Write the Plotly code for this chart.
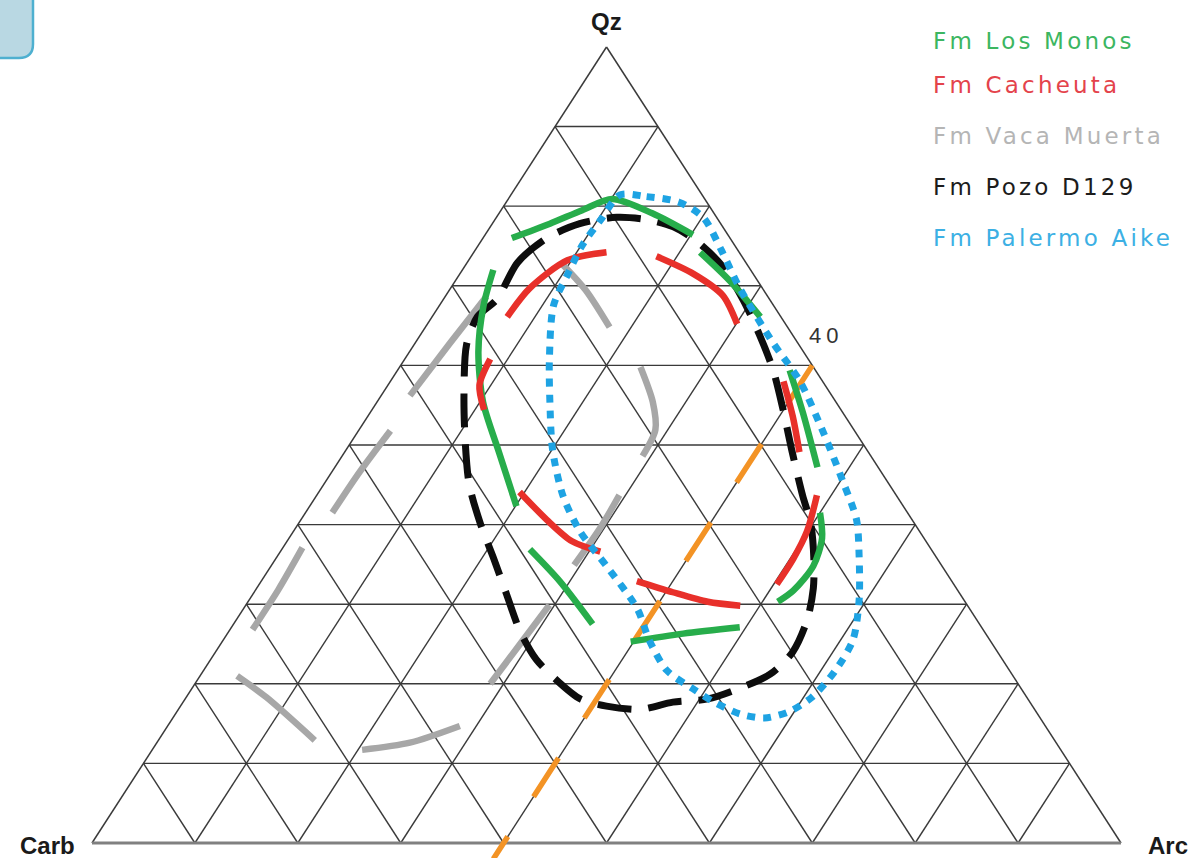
import plotly.graph_objects as go

# ---------------------------------------------------------------------------
# Ternary diagram Qz - Carb - Arc with formation envelopes (values in %)
# ---------------------------------------------------------------------------
vertex_names = ["Qz", "Carb", "Arc"]
grid_steps = [10, 20, 30, 40, 50, 60, 70, 80, 90]

# Reference line of constant Arc
arc_guide_value = 40
arc_guide_qz = [60, -2]

# Fm Los Monos (separate strokes split by None)
los_monos_qz = [76.0, 77.8, 79.5, 80.9, 79.1, 76.4, None,
                74.2, 70.6, 66.1, None,
                59.4, 54.0, 47.2, None,
                41.5, 38.3, 34.8, 31.7, 30.3, None,
                27.1, 26.3, 25.3, None,
                27.5, 32.9, 36.9, None,
                42.3, 49.1, 55.4, 61.7, 67.5, 72.0]
los_monos_carb = [21.2, 16.6, 12.6, 9.0, 6.0, 3.4, None,
                  3.8, 2.7, 2.0, None,
                  2.5, 3.9, 5.9, None,
                  8.5, 9.9, 12.5, 16.0, 18.2, None,
                  23.5, 29.4, 35.0, None,
                  37.6, 38.1, 39.0, None,
                  37.6, 35.9, 34.3, 31.6, 28.2, 25.0]
los_monos_arc = [2.8, 5.6, 7.9, 10.1, 14.9, 20.2, None,
                 22.0, 26.7, 31.9, None,
                 38.1, 42.1, 46.9, None,
                 50.0, 51.8, 52.7, 52.3, 51.5, None,
                 49.4, 44.3, 39.7, None,
                 34.9, 29.0, 24.1, None,
                 20.1, 15.0, 10.3, 6.7, 4.3, 3.0]

# Fm Cacheuta
cacheuta_qz = [66.1, 69.7, 73.2, 74.2, None,
               73.7, 71.5, 68.8, 65.2, None,
               58.0, 53.6, 49.1, None,
               43.7, 39.2, 35.7, 32.5, None,
               29.8, 30.3, 31.5, 32.9, None,
               36.6, 37.9, 40.6, 44.1, None,
               60.8, 57.5, 54.4]
cacheuta_carb = [26.6, 22.6, 17.2, 12.9, None,
                 8.3, 5.8, 4.3, 4.7, None,
                 3.8, 5.1, 6.7, None,
                 7.7, 10.9, 14.0, 17.2, None,
                 22.1, 25.0, 27.8, 30.6, None,
                 32.3, 34.4, 35.5, 36.4, None,
                 30.9, 33.6, 34.7]
cacheuta_arc = [7.3, 7.7, 9.6, 12.9, None,
                18.0, 22.7, 26.9, 30.1, None,
                38.2, 41.3, 44.2, None,
                48.6, 49.9, 50.3, 50.3, None,
                48.1, 44.7, 40.7, 36.5, None,
                31.1, 27.7, 23.9, 19.5, None,
                8.3, 8.9, 10.9]

# Fm Vaca Muerta
vaca_muerta_qz = [73.0, 69.5, 64.8, None,
                  59.8, 55.4, 51.9, 48.6, None,
                  43.7, 39.6, 34.9, None,
                  29.9, 24.9, 20.0, None,
                  14.7, 12.6, 11.7, None,
                  12.9, 18.3, 21.0, None,
                  26.8, 31.8, 37.1, None,
                  41.5, 46.6, 51.8, None,
                  56.2, 62.8, 68.7]
vaca_muerta_carb = [18.0, 17.3, 17.3, None,
                    16.8, 17.8, 19.3, 22.2, None,
                    26.9, 30.8, 35.7, None,
                    40.6, 46.0, 51.3, None,
                    56.9, 62.8, 67.9, None,
                    71.9, 73.9, 75.4, None,
                    71.0, 66.0, 61.0, None,
                    55.9, 50.7, 45.1, None,
                    41.0, 33.8, 27.3]
vaca_muerta_arc = [9.0, 13.2, 17.9, None,
                   23.4, 26.8, 28.8, 29.2, None,
                   29.4, 29.6, 29.4, None,
                   29.5, 29.1, 28.7, None,
                   28.4, 24.6, 20.4, None,
                   15.2, 7.8, 3.6, None,
                   2.2, 2.2, 1.9, None,
                   2.6, 2.7, 3.1, None,
                   2.8, 3.4, 4.0]

# Fm Pozo D129 (closed envelope)
pozo_qz = [68.3, 72.9, 76.0, 77.8, 78.6, 78.3, 77.4, 75.5, 72.4, 68.3,
           63.9, 59.4, 54.5, 49.1, 43.7, 40.1, 35.7, 32.0, 28.0, 24.0,
           21.2, 19.5, 18.1, 17.7, 16.8, 17.2, 18.1, 20.4, 23.1, 26.6,
           31.2, 35.7, 40.1, 45.1, 50.9, 56.3, 62.6, 66.1, 68.3]
pozo_carb = [26.5, 22.2, 17.8, 13.7, 9.7, 6.9, 4.8, 3.4, 2.5, 2.6,
             3.2, 4.1, 5.6, 7.4, 9.1, 10.1, 12.0, 13.9, 16.5, 19.9,
             23.5, 27.2, 31.1, 34.7, 38.3, 41.4, 43.5, 44.6, 45.3, 45.1,
             44.1, 43.1, 42.2, 40.8, 38.3, 35.7, 32.3, 29.5, 26.5]
pozo_arc = [5.2, 4.9, 6.2, 8.5, 11.7, 14.8, 17.8, 21.1, 25.1, 29.1,
            32.9, 36.5, 39.9, 43.5, 47.2, 49.8, 52.3, 54.1, 55.5, 56.1,
            55.3, 53.3, 50.8, 47.6, 44.9, 41.4, 38.4, 35.0, 31.6, 28.3,
            24.7, 21.2, 17.7, 14.1, 10.8, 8.0, 5.1, 4.4, 5.2]

# Fm Palermo Aike (closed envelope)
palermo_qz = [81.4, 81.2, 80.5, 78.6, 74.5, 69.7, 62.9, 58.0, 51.8, 45.5,
              40.6, 36.1, 30.5, 25.5, 21.5, 18.3, 16.5, 15.7, 16.2, 17.7,
              19.2, 21.7, 25.5, 29.4, 34.8, 39.2, 43.7, 49.5, 55.4, 60.7,
              67.5, 71.5, 75.1, 78.3, 81.4]
palermo_carb = [8.0, 5.5, 2.7, 1.3, 1.6, 2.2, 2.4, 2.2, 3.1, 4.3,
                5.4, 7.4, 10.2, 13.3, 17.1, 20.9, 24.0, 26.8, 28.9, 30.7,
                31.8, 33.3, 33.1, 32.3, 32.6, 33.0, 32.4, 30.5, 27.8, 25.2,
                21.4, 18.0, 14.8, 11.4, 8.0]
palermo_arc = [10.6, 13.3, 16.8, 20.1, 23.9, 28.1, 34.7, 39.8, 45.1, 50.2,
               54.0, 56.5, 59.3, 61.2, 61.4, 60.8, 59.5, 57.5, 54.9, 51.6,
               49.0, 45.0, 41.4, 38.3, 32.6, 27.8, 23.9, 20.0, 16.8, 14.1,
               11.1, 10.5, 10.1, 10.3, 10.6]

legend_names = ["Fm Los Monos", "Fm Cacheuta", "Fm Vaca Muerta",
                "Fm Pozo D129", "Fm Palermo Aike"]


def to_xy(qz, carb, arc):
    """Project ternary compositions onto the plane (Carb left, Arc right, Qz top)."""
    xs, ys = [], []
    for q, c, a in zip(qz, carb, arc):
        if q is None:
            xs.append(None)
            ys.append(None)
            continue
        t = q + c + a
        xs.append((a + q / 2.0) / t * 100.0)
        ys.append(q / t * 100.0)
    return xs, ys


fig = go.Figure()

# Grid lines (constant Qz, Arc and Carb)
gq, gc, ga = [], [], []
for v in grid_steps:
    gq += [v, v, None]
    gc += [100 - v, 0, None]
    ga += [0, 100 - v, None]
    gq += [0, 100 - v, None]
    gc += [100 - v, 0, None]
    ga += [v, v, None]
    gq += [0, 100 - v, None]
    gc += [v, v, None]
    ga += [100 - v, 0, None]
gx, gy = to_xy(gq, gc, ga)
fig.add_trace(go.Scatter(x=gx, y=gy, mode="lines",
                         line=dict(color="#3a3a3a", width=1.4), hoverinfo="skip"))

# Triangle sides
ox, oy = to_xy([100, 0], [0, 100], [0, 0])
fig.add_trace(go.Scatter(x=ox, y=oy, mode="lines",
                         line=dict(color="#3a3a3a", width=1.5), hoverinfo="skip"))
ox, oy = to_xy([100, 0], [0, 0], [0, 100])
fig.add_trace(go.Scatter(x=ox, y=oy, mode="lines",
                         line=dict(color="#3a3a3a", width=1.5), hoverinfo="skip"))
ox, oy = to_xy([0, 0], [100, 0], [0, 100])
fig.add_trace(go.Scatter(x=ox, y=oy, mode="lines",
                         line=dict(color="#808080", width=2.8), hoverinfo="skip"))

# Arc = 40 guide
guide_carb = [100 - q - arc_guide_value for q in arc_guide_qz]
guide_arc = [arc_guide_value for _ in arc_guide_qz]
ax_, ay_ = to_xy(arc_guide_qz, guide_carb, guide_arc)
fig.add_trace(go.Scatter(x=ax_, y=ay_, mode="lines",
                         line=dict(color="#f39325", width=5.5, dash="46px,47.5px"),
                         hoverinfo="skip"))

series = [
    (vaca_muerta_qz, vaca_muerta_carb, vaca_muerta_arc, "#a7a7a7", "solid", 6.5),
    (pozo_qz, pozo_carb, pozo_arc, "#0d0d0d", "34px,17px", 7),
    (los_monos_qz, los_monos_carb, los_monos_arc, "#27ad4b", "solid", 6.5),
    (cacheuta_qz, cacheuta_carb, cacheuta_arc, "#e8302a", "solid", 6.5),
    (palermo_qz, palermo_carb, palermo_arc, "#1ea3e3", "8px,8px", 7),
]
for q, c, a, col, dash, w in series:
    sx, sy = to_xy(q, c, a)
    fig.add_trace(go.Scatter(x=sx, y=sy, mode="lines",
                             line=dict(color=col, width=w, dash=dash, shape="spline",
                                       smoothing=0.8),
                             hoverinfo="skip"))

# Vertex labels
lab_font = dict(family="Liberation Sans", size=24, color="#1a1a1a", weight="bold")
vx, vy = to_xy([100, 0, 0], [0, 100, 0], [0, 0, 100])
fig.add_annotation(x=vx[0], y=vy[0], text=vertex_names[0], showarrow=False,
                   font=lab_font, xanchor="center", yanchor="bottom", yshift=10)
fig.add_annotation(x=vx[1], y=vy[1], text=vertex_names[1], showarrow=False,
                   font=lab_font, xanchor="right", yanchor="middle", xshift=-15, yshift=-2)
fig.add_annotation(x=vx[2], y=vy[2], text=vertex_names[2], showarrow=False,
                   font=lab_font, xanchor="left", yanchor="middle", xshift=25, yshift=-2)

# Value label of the guide line
gx0, gy0 = to_xy([arc_guide_qz[0]], [100 - arc_guide_qz[0] - arc_guide_value],
                 [arc_guide_value])
fig.add_annotation(x=gx0[0], y=gy0[0],
                   text='<span style="letter-spacing:5px">%d</span>' % arc_guide_value,
                   showarrow=False, font=dict(family="Liberation Sans", size=22, color="#333333"),
                   xanchor="center", yanchor="middle", xshift=14, yshift=30)

# Formation names
legend_colors = ["#3cb661", "#e4434b", "#b5b5b5", "#1c1c1c", "#3cb0e4"]
legend_y = [41, 85, 136, 187, 238]
for name, col, ypx in zip(legend_names, legend_colors, legend_y):
    fig.add_annotation(xref="paper", yref="paper", x=931 / 1203, y=1 - ypx / 858,
                       text='<span style="letter-spacing:3.2px">%s</span>' % name,
                       showarrow=False, xanchor="left", yanchor="middle",
                       font=dict(family="DejaVu Sans", size=23, color=col))

# Rounded panel tab in the upper-left corner
fig.add_shape(type="path", xref="paper", yref="paper",
              path="M -0.03,1.03 L 0.02743,1.03 L 0.02743,0.94872 "
                   "Q 0.02743,0.9324 0.01579,0.9324 L -0.03,0.9324 Z",
              fillcolor="#b9d8e3", line=dict(color="#4eb0d0", width=2.5))

fig.update_layout(
    width=1203, height=858, autosize=False,
    margin=dict(l=0, r=0, t=0, b=0),
    paper_bgcolor="white", plot_bgcolor="white",
    showlegend=False,
    xaxis=dict(range=[-8.941, 107.97], visible=False, fixedrange=True),
    yaxis=dict(range=[-1.884, 105.90], visible=False, fixedrange=True),
)

fig.write_html("out.html")
